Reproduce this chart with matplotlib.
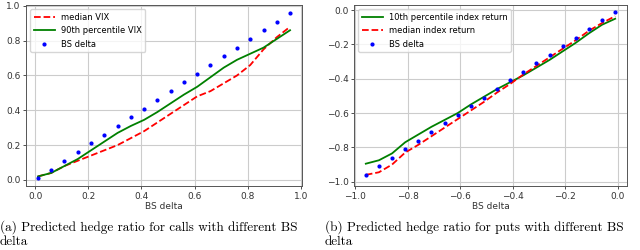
import matplotlib
matplotlib.use("Agg")
import matplotlib.pyplot as plt

call_x = [0.01, 0.06, 0.11, 0.16, 0.21, 0.26, 0.31, 0.36, 0.41, 0.46,
          0.51, 0.56, 0.61, 0.66, 0.71, 0.76, 0.81, 0.86, 0.91, 0.96]
call_median = [0.02, 0.04, 0.08, 0.11, 0.14, 0.17, 0.20, 0.24, 0.28, 0.33,
               0.38, 0.43, 0.48, 0.51, 0.555, 0.60, 0.66, 0.75, 0.82, 0.88]
call_p90 = [0.02, 0.04, 0.08, 0.12, 0.17, 0.22, 0.27, 0.31, 0.345, 0.39,
            0.44, 0.49, 0.535, 0.59, 0.645, 0.69, 0.725, 0.76, 0.81, 0.86]
call_bs = [0.01, 0.055, 0.11, 0.16, 0.21, 0.26, 0.31, 0.36, 0.41, 0.46,
           0.51, 0.56, 0.61, 0.66, 0.71, 0.76, 0.81, 0.86, 0.91, 0.96]

put_x = [-0.96, -0.91, -0.86, -0.81, -0.76, -0.71, -0.66, -0.61, -0.56, -0.51,
         -0.46, -0.41, -0.36, -0.31, -0.26, -0.21, -0.16, -0.11, -0.06, -0.01]
put_p10 = [-0.895, -0.875, -0.835, -0.77, -0.725, -0.68, -0.64, -0.60, -0.55, -0.505,
           -0.46, -0.42, -0.38, -0.335, -0.29, -0.24, -0.19, -0.135, -0.085, -0.05]
put_median = [-0.96, -0.945, -0.90, -0.83, -0.785, -0.735, -0.685, -0.635, -0.585, -0.535,
              -0.48, -0.43, -0.375, -0.325, -0.275, -0.225, -0.175, -0.12, -0.075, -0.035]
put_bs = [-0.96, -0.91, -0.86, -0.81, -0.76, -0.71, -0.66, -0.61, -0.56, -0.51,
          -0.46, -0.41, -0.36, -0.31, -0.26, -0.21, -0.16, -0.11, -0.06, -0.01]

caption_a = ["(a) Predicted hedge ratio for calls with different BS", "delta"]
caption_b = ["(b) Predicted hedge ratio for puts with different BS", "delta"]

fig = plt.figure(figsize=(6.4, 2.5), dpi=100)
W, H = 640, 250
ax1 = fig.add_axes([26 / W, 1 - 186 / H, (302 - 26) / W, (186 - 5) / H])
ax2 = fig.add_axes([354 / W, 1 - 186 / H, (627 - 354) / W, (186 - 5) / H])

def style(ax):
    ax.grid(True, color="#cccccc", linewidth=0.8)
    for s in ax.spines.values():
        s.set_color("#555555")
        s.set_linewidth(0.7)
    ax.tick_params(labelsize=6.5, length=2.5, width=0.6, pad=1.5, colors="#333333")
    ax.set_xlabel("BS delta", fontsize=6.5, labelpad=1, color="#333333")

leg_kw = dict(loc="upper left", fontsize=6, framealpha=0.8, borderpad=0.4,
              labelspacing=0.55, handlelength=2.6, handletextpad=0.7,
              edgecolor="#cccccc")

ax1.plot(call_x, call_median, "r--", lw=1.3, label="median VIX")
ax1.plot(call_x, call_p90, color="green", lw=1.3, label="90th percentile VIX")
ax1.plot(call_x, call_bs, "b.", ms=4, label="BS delta")
ax1.set_xlim(-0.035, 1.005)
ax1.set_ylim(-0.035, 1.005)
style(ax1)
ax1.legend(**leg_kw)

ax2.plot(put_x, put_p10, color="green", lw=1.3, label="10th percentile index return")
ax2.plot(put_x, put_median, "r--", lw=1.3, label="median index return")
ax2.plot(put_x, put_bs, "b.", ms=4, label="BS delta")
ax2.set_xlim(-1.005, 0.035)
ax2.set_ylim(-1.025, 0.03)
style(ax2)
ax2.legend(**leg_kw)

for i, t in enumerate(caption_a):
    fig.text(0 / W, 1 - (227 + 15 * i) / H, t, family="cmr10", fontsize=9.5, va="center", ha="left")
for i, t in enumerate(caption_b):
    fig.text(325 / W, 1 - (227 + 15 * i) / H, t, family="cmr10", fontsize=9.5, va="center", ha="left")

fig.savefig("out.png", dpi=100)
